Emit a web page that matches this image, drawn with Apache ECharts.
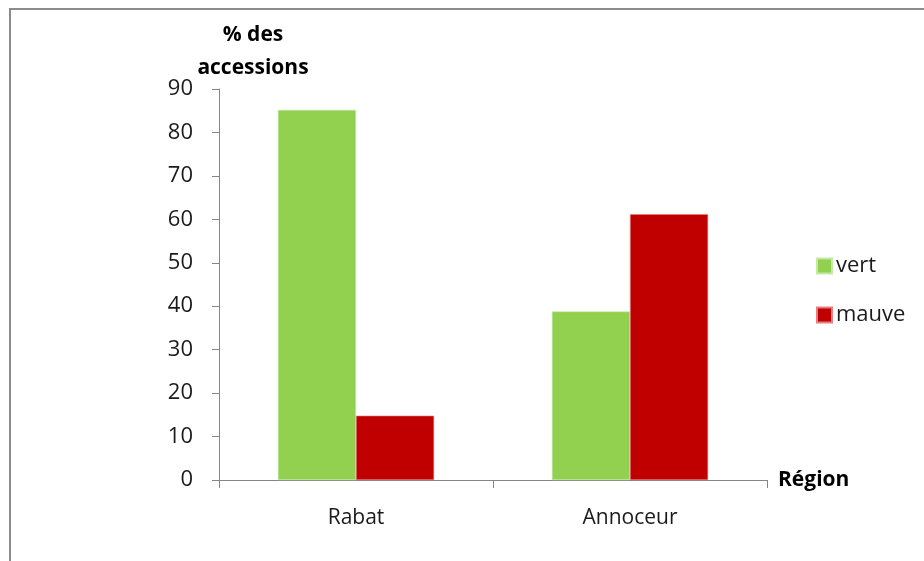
<!DOCTYPE html>
<html>
<head>
<meta charset="utf-8">
<style>
  html, body { margin: 0; padding: 0; background: #ffffff; }
  #chart { width: 924px; height: 561px; }
</style>
<script src="https://cdn.jsdelivr.net/npm/echarts@6/dist/echarts.min.js"></script>
</head>
<body>
<div id="chart"></div>
<script>
// Régions et pourcentages d'accessions par couleur
const regions = ['Rabat', 'Annoceur'];
const seriesNames = ['vert', 'mauve'];
const vertValues = [85.2, 38.8];
const mauveValues = [14.8, 61.2];
const yTicks = { min: 0, max: 90, interval: 10 };

const FONT = '"Open Sans", Lato, sans-serif';
const AXIS_GREY = '#868686';
const TEXT = '#1a1a1a';

const chart = echarts.init(document.getElementById('chart'), null, { renderer: 'canvas' });

chart.setOption({
  backgroundColor: '#ffffff',
  animation: false,
  textStyle: { fontFamily: FONT },
  graphic: [
    {
      type: 'rect',
      shape: { x: 10, y: 9, width: 940, height: 580 },
      style: { fill: 'none', stroke: '#8c8c8c', lineWidth: 2 },
      silent: true
    }
  ],
  grid: { left: 219, right: 157, top: 89, bottom: 81, containLabel: false },
  legend: {
    orient: 'vertical',
    left: 811,
    top: 250,
    itemWidth: 15,
    itemHeight: 15,
    itemGap: 27,
    icon: 'rect',
    textStyle: { fontFamily: FONT, fontSize: 22, color: TEXT, padding: [0, 0, 0, -1] },
    data: seriesNames
  },
  xAxis: {
    type: 'category',
    data: regions,
    name: 'Région',
    nameLocation: 'end',
    nameGap: 11,
    nameTextStyle: { fontFamily: FONT, fontSize: 21, fontWeight: 'bold', color: '#000000' },
    axisLine: { lineStyle: { color: AXIS_GREY, width: 1 } },
    axisTick: { show: true, alignWithLabel: false, length: 8, lineStyle: { color: AXIS_GREY } },
    axisLabel: { fontFamily: FONT, fontSize: 21, color: TEXT, margin: 28 },
    splitLine: { show: false }
  },
  yAxis: {
    type: 'value',
    min: yTicks.min,
    max: yTicks.max,
    interval: yTicks.interval,
    name: '% des\naccessions',
    nameLocation: 'end',
    nameGap: 6,
    nameTextStyle: {
      fontFamily: FONT, fontSize: 21, fontWeight: 'bold', color: '#000000',
      align: 'center', verticalAlign: 'bottom', lineHeight: 33, padding: [0, 0, -12, 68]
    },
    axisLine: { show: true, lineStyle: { color: AXIS_GREY, width: 1 } },
    axisTick: { show: true, length: 7, lineStyle: { color: AXIS_GREY } },
    axisLabel: { fontFamily: FONT, fontSize: 22, color: TEXT, margin: 26 },
    splitLine: { show: false }
  },
  series: [
    {
      name: seriesNames[0],
      type: 'bar',
      data: vertValues,
      barGap: '0%',
      barCategoryGap: '43%',
      itemStyle: { color: '#92D050', borderColor: '#c6e8a4', borderWidth: 0.6 }
    },
    {
      name: seriesNames[1],
      type: 'bar',
      data: mauveValues,
      barGap: '0%',
      barCategoryGap: '43%',
      itemStyle: { color: '#C00000', borderColor: '#e08080', borderWidth: 0.6 }
    }
  ]
});
</script>
</body>
</html>
